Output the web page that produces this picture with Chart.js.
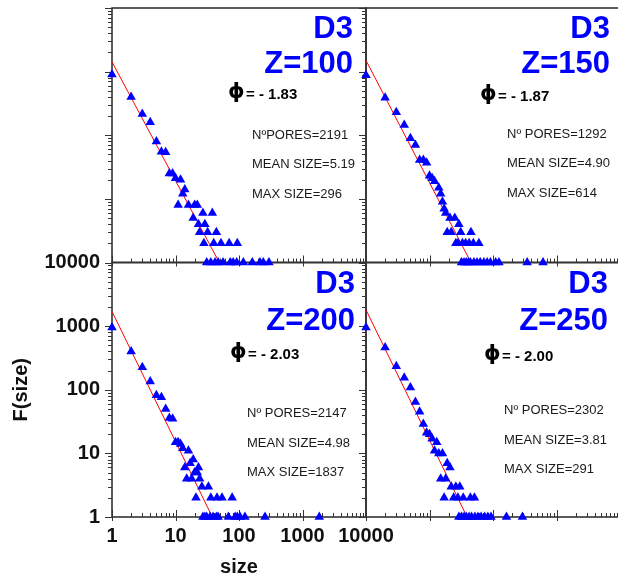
<!DOCTYPE html>
<html lang="en">
<head>
<meta charset="UTF-8">
<title>D3 pore size distributions</title>
<script src="https://cdn.jsdelivr.net/npm/chart.js"></script>
<style>
  html, body { margin: 0; padding: 0; overflow: hidden; background: #fff; }
  #wrap { position: relative; width: 620px; height: 579px; }
  #wrap canvas { position: absolute; left: 0; top: 0; }
  .txt { position: absolute; white-space: nowrap; line-height: 1; font-family: 'Liberation Sans', Arial, sans-serif; color: #1a1a1a; }
</style>
</head>
<body>
<div id="wrap"><canvas id="poreChart" width="620" height="579"></canvas></div>
<script>
// pore size -> frequency
const size100 = [1, 2, 3, 4, 5, 6, 7, 8, 9, 10, 12, 13, 14, 11, 16, 20, 22, 19, 27, 38, 23, 29, 24, 32, 44, 28, 40, 52, 70, 94, 31, 36, 42, 47, 56, 73, 81, 92, 117, 162, 214, 241, 296];
const freq100 = [900, 400, 215, 160, 80, 55, 54, 25, 25, 21, 20, 12, 14, 8, 8, 8, 8, 5, 6, 6, 4, 4, 3, 3, 3, 2, 2, 2, 2, 2, 1, 1, 1, 1, 1, 1, 1, 1, 1, 1, 1, 1, 1];

const size150 = [1, 2, 3, 4, 5, 6, 7, 8, 9, 10, 11, 12, 14, 15, 16, 17, 18, 21, 25, 29, 19, 22, 31, 45, 26, 28, 33, 37, 42, 49, 60, 32, 35, 38, 41, 44, 50, 56, 63, 72, 81, 91, 110, 124, 345, 614];
const freq150 = [880, 390, 230, 145, 90, 70, 41, 41, 37, 23, 21, 19, 15, 12, 9, 7, 6, 5, 5, 4, 3, 3, 3, 3, 2, 2, 2, 2, 2, 2, 2, 1, 1, 1, 1, 1, 1, 1, 1, 1, 1, 1, 1, 1, 1, 1];

const size200 = [1, 2, 3, 4, 5, 6, 7, 8, 9, 10, 11, 12, 13, 16, 19, 17, 14, 23, 20, 22, 15, 18, 24, 26, 33, 21, 36, 45, 54, 78, 27, 29, 31, 35, 39, 44, 47, 68, 87, 94, 104, 124, 257, 1837];
const freq200 = [950, 400, 225, 135, 82, 76, 50, 36, 35, 15, 15, 14, 12, 11, 8, 7, 6, 6, 5, 5, 4, 4, 4, 3, 3, 2, 2, 2, 2, 2, 1, 1, 1, 1, 1, 1, 1, 1, 1, 1, 1, 1, 1, 1];

const size250 = [1, 2, 3, 4, 5, 6, 7, 8, 9, 10, 11, 13, 12, 14, 16, 19, 21, 15, 18, 22, 26, 30, 17, 24, 28, 34, 44, 51, 29, 32, 35, 38, 42, 46, 52, 58, 65, 74, 83, 93, 163, 291];
const freq250 = [950, 460, 235, 155, 108, 64, 45, 29, 21, 20, 17, 15, 11, 10, 10, 7, 6, 4, 4, 3, 3, 3, 2, 2, 2, 2, 2, 2, 1, 1, 1, 1, 1, 1, 1, 1, 1, 1, 1, 1, 1, 1];

// red fit lines: both ends as read on the picture
const fitSize = [[1, 49], [1, 45], [1, 38], [1, 39]];
const fitFreq = [[1420, 1], [1500, 1], [1700, 1], [1800, 1]];

const panelZ = ['Z=100', 'Z=150', 'Z=200', 'Z=250'];
const phiLabels = ['= - 1.83', '= - 1.87', '= - 2.03', '= - 2.00'];
const poreLabels = ['N\u00baPORES=2191', 'N\u00ba PORES=1292', 'N\u00ba PORES=2147', 'N\u00ba PORES=2302'];
const meanLabels = ['MEAN SIZE=5.19', 'MEAN SIZE=4.90', 'MEAN SIZE=4.98', 'MEAN SIZE=3.81'];
const maxLabels = ['MAX SIZE=296', 'MAX SIZE=614', 'MAX SIZE=1837', 'MAX SIZE=291'];
const tickValues = [1, 10, 100, 1000, 10000];

const sizes = [size100, size150, size200, size250];
const freqs = [freq100, freq150, freq200, freq250];

// which axis pair each panel uses (top-left, top-right, bottom-left, bottom-right)
const panels = [
  {x: 'x1', y: 'y2'}, {x: 'x2', y: 'y2'},
  {x: 'x1', y: 'y1'}, {x: 'x2', y: 'y1'}
];

// text placement inside each panel, relative to its corner
const notePos = [
  {dx: 13, d3: 30, z: 65, phiX: 116, phiY: 91, statX: 140, stat: [131, 160, 190]},
  {dx: 10, d3: 30, z: 65, phiX: 114, phiY: 93, statX: 141, stat: [130, 159, 189]},
  {dx: 11, d3: 31, z: 68, phiX: 118, phiY: 96, statX: 135, stat: [154, 184, 213]},
  {dx: 12, d3: 31, z: 68, phiX: 118, phiY: 98, statX: 138, stat: [151, 181, 210]}
];

const blue = '#0000ff';
const axisFont = {family: "'Liberation Sans', Arial, sans-serif", size: 20, weight: 'bold'};

// tick steps along a 1..10000 log axis
const axisSteps = [];
for (let e = 0; e < 4; e++) {
  for (let k = 1; k < 10; k++) axisSteps.push(k * Math.pow(10, e));
}
axisSteps.push(10000);

function decadeLabel(v) {
  return tickValues.includes(Math.round(v)) && Math.abs(v - Math.round(v)) < 1e-6 ? String(Math.round(v)) : '';
}

// fixed box size, and no label overhang pushing the plot area around
function fixBox(dim, val) {
  return s => {
    s[dim] = val;
    s.paddingLeft = 0; s.paddingRight = 0;
    s.paddingTop = 0; s.paddingBottom = 0;
  };
}

const datasets = [];
panels.forEach((p, i) => {
  datasets.push({
    label: panelZ[i],
    data: sizes[i].map((s, k) => ({x: s, y: freqs[i][k]})),
    xAxisID: p.x, yAxisID: p.y,
    pointStyle: 'triangle', pointRadius: 5.5,
    backgroundColor: blue, borderWidth: 0,
    clip: false, order: 1
  });
  datasets.push({
    label: 'fit ' + panelZ[i],
    data: fitSize[i].map((s, k) => ({x: s, y: fitFreq[i][k]})),
    xAxisID: p.x, yAxisID: p.y,
    showLine: true, borderColor: '#ff0000', borderWidth: 1,
    pointRadius: 0, order: 2
  });
});

function logAxis(pos, stack, weight, extra) {
  return Object.assign({
    type: 'logarithmic', position: pos, stack: stack, stackWeight: 1, weight: weight,
    min: 1, max: 10000,
    grid: {display: false, drawTicks: false},
    border: {display: false},
    ticks: {display: false}
  }, extra);
}

// frames and tick marks for the four panels
const panelFrames = {
  id: 'panelFrames',
  beforeDatasetsDraw(chart) {
    const ctx = chart.ctx;
    ctx.save();
    ctx.strokeStyle = '#333';
    panels.forEach(p => {
      const xs = chart.scales[p.x], ys = chart.scales[p.y];
      ctx.lineWidth = 1;
      ctx.beginPath();
      axisSteps.forEach(v => {
        const major = tickValues.includes(v);
        const len = major ? 7 : 4;
        const y = Math.round(ys.getPixelForValue(v)) + 0.5;
        ctx.moveTo(xs.left - len, y);
        ctx.lineTo(xs.left, y);
        const x = Math.round(xs.getPixelForValue(v)) + 0.5;
        ctx.moveTo(x, ys.bottom - len);
        ctx.lineTo(x, ys.bottom + (major ? 4 : 0));
      });
      ctx.stroke();
      ctx.lineWidth = 1.6;
      ctx.strokeRect(xs.left, ys.top, xs.right - xs.left, ys.bottom - ys.top);
    });
    ctx.restore();
  }
};

const chart = new Chart(document.getElementById('poreChart'), {
  type: 'scatter',
  data: {datasets: datasets},
  options: {
    responsive: false,
    devicePixelRatio: 1,
    animation: false,
    events: [],
    layout: {padding: {top: 8, left: 0, right: 0, bottom: 0}, autoPadding: false},
    plugins: {legend: {display: false}, tooltip: {enabled: false}},
    scales: {
      x1: logAxis('bottom', 'sx', 0, {
        ticks: {display: true, autoSkip: false, maxRotation: 0, minRotation: 0, padding: 7, color: '#111', font: axisFont, callback: decadeLabel},
        title: {display: true, text: 'size', color: '#111', font: axisFont, padding: 0},
        afterFit: fixBox('height', 62)
      }),
      x2: logAxis('bottom', 'sx', 1, {afterFit: fixBox('height', 62)}),
      y1: logAxis('left', 'sy', 0, {
        ticks: {display: true, autoSkip: false, padding: 12, color: '#111', font: axisFont, callback: decadeLabel},
        title: {display: true, text: 'F(size)', color: '#111', font: axisFont, padding: {top: 9, bottom: 0}},
        afterFit: fixBox('width', 112)
      }),
      y2: logAxis('left', 'sy', 1, {afterFit: fixBox('width', 112)})
    }
  },
  plugins: [panelFrames]
});

// annotation text, placed by baseline
const wrap = document.getElementById('wrap');
function note(text, x, baseline, size, style, alignRight) {
  const d = document.createElement('div');
  d.className = 'txt';
  d.textContent = text;
  d.style.fontSize = size + 'px';
  d.style.top = (baseline - 0.846 * size) + 'px';
  if (alignRight) {
    d.style.left = (x - 300) + 'px';
    d.style.width = '300px';
    d.style.textAlign = 'right';
  } else {
    d.style.left = x + 'px';
  }
  Object.assign(d.style, style || {});
  wrap.appendChild(d);
}

panels.forEach((p, i) => {
  const xs = chart.scales[p.x], ys = chart.scales[p.y];
  const L = xs.left, R = xs.right, T = ys.top;
  const n = notePos[i];
  note('D3', R - n.dx, T + n.d3, 31, {fontWeight: 'bold', color: blue}, true);
  note(panelZ[i], R - n.dx, T + n.z, 31, {fontWeight: 'bold', color: blue}, true);
  note('\u03D5', L + n.phiX, T + n.phiY, 21, {fontWeight: 'bold', fontFamily: "'DejaVu Sans', sans-serif", color: '#000'});
  note(phiLabels[i], L + n.phiX + 18, T + n.phiY, 15, {fontWeight: 'bold', color: '#000'});
  note(poreLabels[i], L + n.statX, T + n.stat[0], 13);
  note(meanLabels[i], L + n.statX, T + n.stat[1], 13);
  note(maxLabels[i], L + n.statX, T + n.stat[2], 13);
});
</script>
</body>
</html>
